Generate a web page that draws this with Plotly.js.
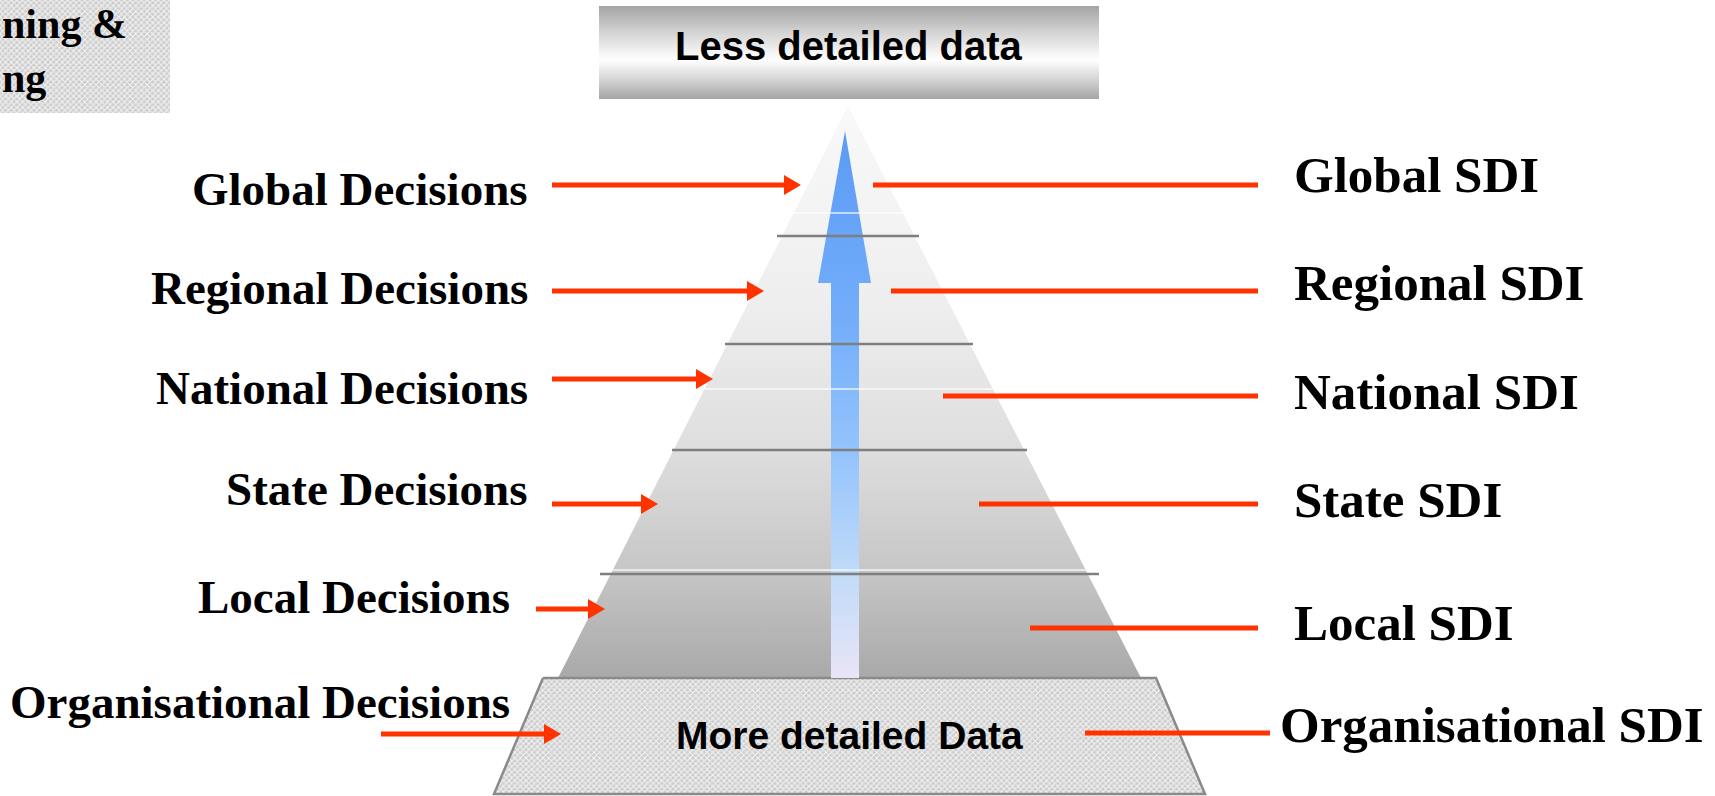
<!DOCTYPE html>
<html>
<head>
<meta charset="utf-8">
<script src="https://cdn.plot.ly/plotly-3.0.1.min.js"></script>
<style>html,body{margin:0;padding:0;background:#fff;overflow:hidden}#chart{width:1715px;height:796px}</style>
</head>
<body>
<div id="chart"></div>
<script>
// ---- content ----
const decisionLabels = ["Global Decisions", "Regional Decisions", "National Decisions", "State Decisions", "Local Decisions", "Organisational Decisions"];
const sdiLabels = ["Global SDI", "Regional SDI", "National SDI", "State SDI", "Local SDI", "Organisational SDI"];
const topLabel = "Less detailed data";
const bottomLabel = "More detailed Data";
const cornerLines = ["ning &", "ng"];

// ---- geometry (pixel space of the canvas) ----
const W = 1715, H = 796;
const RED = "#ff3300";
const leftText = [[530,189],[530,288],[530,388],[530,489],[512,597],[512,702]];
const rightText = [[1292,175],[1292,283],[1292,392],[1292,500],[1292,623],[1278,725]];
const leftArrow = [[552,801,185],[552,764,291],[552,713,379],[552,658,504],[536,605,609],[381,561,734]];
const rightLine = [[873,1258,185],[891,1258,291],[943,1258,396],[979,1258,504],[1030,1258,628],[1085,1270,733]];
const greyLines = [[777,919,236],[725,973,344],[672,1027,450],[600,1099,574]];
const whiteLines = [213,389,570];
const apex = [848,106], pyrBaseY = 678, pyrL = 558, pyrR = 1141;
const trap = {yt:678, yb:794, xtl:543, xtr:1156, xbl:494, xbr:1205};
const topBox = {x0:599, x1:1099, y0:6, y1:99};
const corner = {x0:0, x1:170, y0:0, y1:113};
const arrowShape = {tipX:845, tipY:131, headY:283, headL:818, headR:871, shaftL:831, shaftR:859, bottom:678};

function pyrX(y, side){ const t=(y-apex[1])/(pyrBaseY-apex[1]); return side<0? apex[0]+(pyrL-apex[0])*t : apex[0]+(pyrR-apex[0])*t; }

const hatch = {shape:"x", size:4, solidity:0.45, fgcolor:"#f4f4f4", bgcolor:"#cdcdcd"};
const traces = [];
// corner box
traces.push({x:[corner.x0,corner.x1,corner.x1,corner.x0,corner.x0], y:[corner.y0,corner.y0,corner.y1,corner.y1,corner.y0], mode:"lines", line:{width:0,color:"rgba(0,0,0,0)"}, fill:"toself", fillcolor:"#dddddd", fillpattern:hatch, hoverinfo:"skip"});
// top box gradient
traces.push({x:[topBox.x0,topBox.x1,topBox.x1,topBox.x0,topBox.x0], y:[topBox.y0,topBox.y0,topBox.y1,topBox.y1,topBox.y0], mode:"lines", line:{width:0,color:"rgba(0,0,0,0)"}, fill:"toself",
  fillgradient:{type:"vertical", start:topBox.y0, stop:topBox.y1, colorscale:[[0,"#a4a4a4"],[0.3,"#d6d6d6"],[0.58,"#ffffff"],[0.8,"#d2d2d2"],[1,"#a4a4a4"]]}, hoverinfo:"skip"});
// pyramid
traces.push({x:[apex[0],pyrR,pyrL,apex[0]], y:[apex[1],pyrBaseY,pyrBaseY,apex[1]], mode:"lines", line:{width:0,color:"rgba(0,0,0,0)"}, fill:"toself",
  fillgradient:{type:"vertical", start:apex[1], stop:pyrBaseY, colorscale:[[0,"#f9f9f9"],[0.35,"#eeeeee"],[0.6,"#dedede"],[0.8,"#c8c8c8"],[1,"#a9a9a9"]]}, hoverinfo:"skip"});
// trapezoid base
traces.push({x:[trap.xtl,trap.xtr,trap.xbr,trap.xbl,trap.xtl], y:[trap.yt,trap.yt,trap.yb,trap.yb,trap.yt], mode:"lines", line:{width:2.5,color:"#8a8a8a"}, fill:"toself", fillcolor:"#dddddd", fillpattern:hatch, hoverinfo:"skip"});
// blue arrow
const a = arrowShape;
traces.push({x:[a.tipX,a.headR,a.shaftR,a.shaftR,a.shaftL,a.shaftL,a.headL,a.tipX], y:[a.tipY,a.headY,a.headY,a.bottom,a.bottom,a.headY,a.headY,a.tipY], mode:"lines", line:{width:0,color:"rgba(0,0,0,0)"}, fill:"toself",
  fillgradient:{type:"vertical", start:a.tipY, stop:a.bottom, colorscale:[[0,"#5b9bf5"],[0.35,"#74aefa"],[0.6,"#96c5fc"],[0.82,"#c3dbf9"],[1,"#e9e5f6"]]}, hoverinfo:"skip"});

const shapes = [];
whiteLines.forEach(y => shapes.push({type:"line", xref:"x", yref:"y", x0:pyrX(y,-1), x1:pyrX(y,1), y0:y, y1:y, line:{color:"rgba(255,255,255,0.8)", width:1.5}}));
greyLines.forEach(g => shapes.push({type:"line", xref:"x", yref:"y", x0:g[0], x1:g[1], y0:g[2], y1:g[2], line:{color:"#7f7f7f", width:2.5}}));
leftArrow.forEach(r => {
  const head = 17, hh = 10;
  shapes.push({type:"line", xref:"x", yref:"y", x0:r[0], x1:r[1]-head+1, y0:r[2], y1:r[2], line:{color:RED, width:5}});
  shapes.push({type:"path", xref:"x", yref:"y", path:`M${r[1]-head},${r[2]-hh} L${r[1]},${r[2]} L${r[1]-head},${r[2]+hh} Z`, fillcolor:RED, line:{width:0}});
});
rightLine.forEach(r => shapes.push({type:"line", xref:"x", yref:"y", x0:r[0], x1:r[1], y0:r[2], y1:r[2], line:{color:RED, width:5}}));

const serif = "Liberation Serif, Times New Roman, serif";
const sans = "Liberation Sans, Arial, sans-serif";
const annotations = [];
decisionLabels.forEach((t,i) => annotations.push({x:leftText[i][0], y:leftText[i][1], xref:"x", yref:"y", text:"<b>"+t+"</b>", showarrow:false, xanchor:"right", yanchor:"middle", font:{family:serif, size:47, color:"#000"}}));
sdiLabels.forEach((t,i) => annotations.push({x:rightText[i][0], y:rightText[i][1], xref:"x", yref:"y", text:"<b>"+t+"</b>", showarrow:false, xanchor:"left", yanchor:"middle", font:{family:serif, size:51, color:"#000"}}));
annotations.push({x:(topBox.x0+topBox.x1)/2, y:46, xref:"x", yref:"y", text:"<b>"+topLabel+"</b>", showarrow:false, xanchor:"center", yanchor:"middle", font:{family:sans, size:40, color:"#000"}});
annotations.push({x:(trap.xbl+trap.xbr)/2, y:735, xref:"x", yref:"y", text:"<b>"+bottomLabel+"</b>", showarrow:false, xanchor:"center", yanchor:"middle", font:{family:sans, size:39, color:"#000"}});
annotations.push({x:1, y:24, xref:"x", yref:"y", text:"<b>"+cornerLines[0]+"</b>", showarrow:false, xanchor:"left", yanchor:"middle", borderpad:0, font:{family:serif, size:42, color:"#000"}});
annotations.push({x:1, y:78, xref:"x", yref:"y", text:"<b>"+cornerLines[1]+"</b>", showarrow:false, xanchor:"left", yanchor:"middle", borderpad:0, font:{family:serif, size:42, color:"#000"}});

const layout = {
  width:W, height:H, margin:{l:0,r:0,t:0,b:0}, showlegend:false,
  paper_bgcolor:"#ffffff", plot_bgcolor:"#ffffff",
  xaxis:{range:[0,W], visible:false, fixedrange:true},
  yaxis:{range:[H,0], visible:false, fixedrange:true},
  shapes:shapes, annotations:annotations
};
Plotly.newPlot("chart", traces, layout, {staticPlot:true, displayModeBar:false});
</script>
</body>
</html>
